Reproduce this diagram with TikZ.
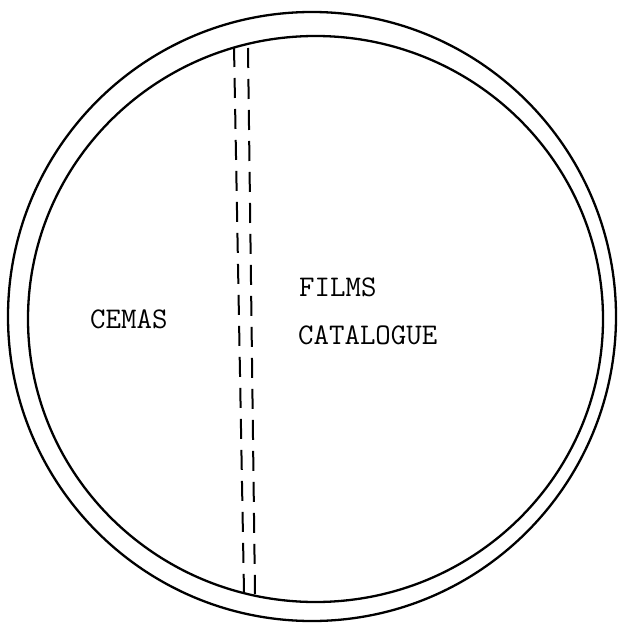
\documentclass[tikz,border=0pt]{standalone}
\begin{document}
\begin{tikzpicture}[x=1pt,y=-1pt,
  ring/.style={line width=2.3pt},
  seam/.style={line width=2pt, dash pattern=on 20pt off 11pt},
  lbl/.style={font=\ttfamily\fontsize{30}{36}\selectfont, inner sep=0pt, anchor=base west}]
\useasboundingbox (0,0) rectangle (619,623);
\draw[ring] (312,316.5) ellipse [x radius=304pt, y radius=304.5pt];
\draw[ring] (315.5,319) ellipse [x radius=287.5pt, y radius=283pt];
\coordinate (l1) at (234,47);
\coordinate (l2) at (244,592);
\coordinate (r1) at (248,48);
\coordinate (r2) at (255,594);
\draw[seam] (l1) -- (l2);
\draw[seam] (r1) -- (r2);
\node[lbl] (cemas) at (90,328) {CEMAS};
\node[lbl] (films) at (299,296) {FILMS};
\node[lbl] (cat) at (298,344) {CATALOGUE};
\end{tikzpicture}
\end{document}
